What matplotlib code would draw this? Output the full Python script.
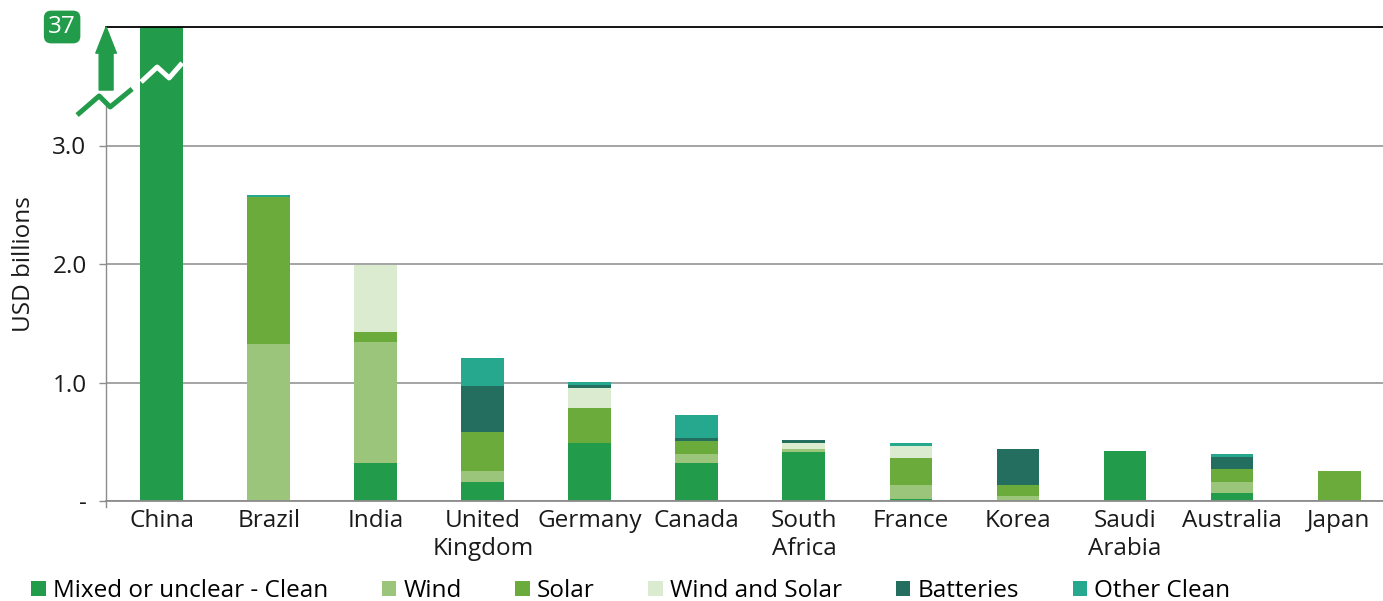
import matplotlib
matplotlib.use('Agg')
import matplotlib.pyplot as plt
import numpy as np

plt.rcParams['font.family'] = ['Open Sans', 'DejaVu Sans']

countries = ['China', 'Brazil', 'India', 'United\nKingdom', 'Germany', 'Canada',
             'South\nAfrica', 'France', 'Korea', 'Saudi\nArabia', 'Australia', 'Japan']

# USD billions by technology
mixed = [37.0, 0.0, 0.32, 0.16, 0.49, 0.32, 0.41, 0.017, 0.0, 0.42, 0.07, 0.0]
wind = [0.0, 1.325, 1.02, 0.09, 0.0, 0.08, 0.03, 0.12, 0.04, 0.0, 0.09, 0.0]
solar = [0.0, 1.24, 0.09, 0.33, 0.295, 0.105, 0.0, 0.225, 0.095, 0.0, 0.11, 0.25]
wind_solar = [0.0, 0.0, 0.565, 0.0, 0.17, 0.0, 0.05, 0.105, 0.0, 0.0, 0.0, 0.0]
batteries = [0.0, 0.0, 0.0, 0.39, 0.025, 0.025, 0.025, 0.0, 0.305, 0.0, 0.10, 0.0]
other_clean = [0.0, 0.02, 0.0, 0.24, 0.025, 0.195, 0.0, 0.025, 0.0, 0.0, 0.025, 0.0]

series = [
    ('Mixed or unclear - Clean', mixed, '#229b4a'),
    ('Wind', wind, '#9bc57a'),
    ('Solar', solar, '#6aab3c'),
    ('Wind and Solar', wind_solar, '#dbebd0'),
    ('Batteries', batteries, '#246e60'),
    ('Other Clean', other_clean, '#26a88f'),
]

green = '#229b4a'
grid_col = '#8c8c8c'
txt_col = '#1a1a1a'
fs = 17.5

fig = plt.figure(figsize=(13.83, 6.01), dpi=100)
ax = fig.add_axes([106 / 1383, 100 / 601, 1277 / 1383, 474 / 601])

x = np.arange(len(countries))
bottom = np.zeros(len(countries))
for name, vals, col in series:
    vals = np.array(vals)
    ax.bar(x, vals, 0.4, bottom=bottom, color=col, label=name, linewidth=0, zorder=2)
    bottom += vals

ax.set_xlim(-0.52, 11.41)
ax.set_ylim(0, 4.0)
ax.set_yticks([0, 1, 2, 3])
ax.set_yticklabels(['-', '1.0', '2.0', '3.0'], fontsize=fs, color=txt_col)
ax.set_xticks(x)
ax.set_xticklabels(countries, fontsize=fs, color=txt_col, linespacing=1.2)
ax.tick_params(axis='x', length=0, pad=6)
ax.tick_params(axis='y', length=5, width=1.0, color=grid_col, pad=9)
ax.yaxis.grid(True, color=grid_col, linewidth=1.1, zorder=0)
ax.set_axisbelow(True)

ax.spines['right'].set_visible(False)
ax.spines['top'].set_color('black')
ax.spines['top'].set_linewidth(1.3)
ax.spines['bottom'].set_color(grid_col)
ax.spines['bottom'].set_linewidth(1.3)
ax.spines['left'].set_color(grid_col)
ax.spines['left'].set_linewidth(1.0)
ax.spines['left'].set_bounds(-0.05, 3.33)

ax.set_ylabel('USD billions', fontsize=fs, color=txt_col, labelpad=12)

# axis break marker
ax.plot([-0.790, -0.584, -0.481, -0.276], [3.257, 3.418, 3.325, 3.477],
        color=green, lw=3.6, solid_capstyle='butt', clip_on=False, zorder=4)
ax.plot([-0.192, -0.042, 0.070, 0.192], [3.536, 3.662, 3.570, 3.696],
        color='white', lw=3.6, solid_capstyle='butt', clip_on=False, zorder=4)

# arrow and label for the off-scale China value
ax.annotate('', xy=(-0.519, 4.0), xytext=(-0.519, 3.468),
            arrowprops=dict(arrowstyle='simple,head_length=0.94,head_width=0.74,tail_width=0.5',
                            color=green, shrinkA=0, shrinkB=0, mutation_scale=20),
            annotation_clip=False, zorder=5)
ax.text(-0.93, 4.0, f'{mixed[0]:.0f}', color='white', fontsize=fs, ha='center', va='center',
        bbox=dict(boxstyle='round,pad=0.18,rounding_size=0.3', fc=green, ec='none'),
        clip_on=False, zorder=5)

fig.legend(loc='center left', bbox_to_anchor=(31 / 1383, 1 - 591 / 601), ncol=6,
           frameon=False, fontsize=fs, handlelength=0.6, handleheight=0.6,
           handletextpad=0.3, columnspacing=2.2, borderpad=0, borderaxespad=0)

fig.savefig('out.png', dpi=100)
